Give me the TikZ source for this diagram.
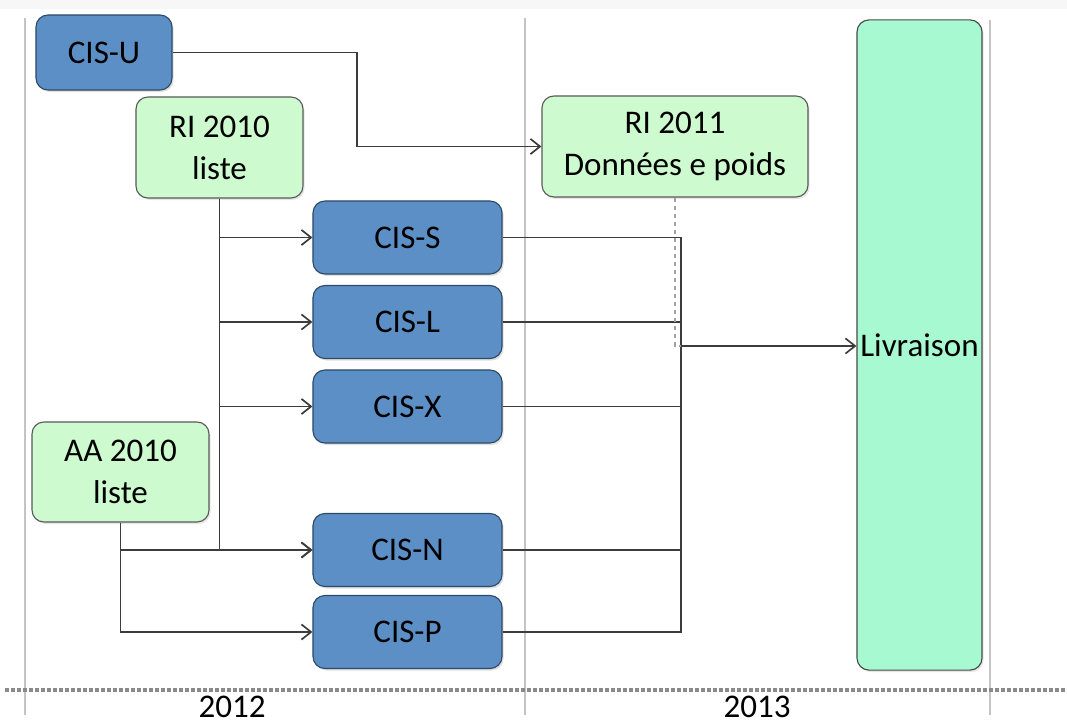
\documentclass[tikz,border=0pt]{standalone}
\usepackage{fontspec}
\setmainfont{Carlito}
\usepackage{tikz}
\usetikzlibrary{arrows.meta,positioning,shadows}
\definecolor{CisBlue}{HTML}{5B8FC6}
\definecolor{CisEdge}{HTML}{2E4A66}
\definecolor{SoftGreen}{HTML}{CDFACF}
\definecolor{GreenEdge}{HTML}{5A5A5A}
\definecolor{Mint}{HTML}{A6F9D0}
\definecolor{MintEdge}{HTML}{4A4A4A}
\definecolor{LineGray}{HTML}{3C3C3C}
\definecolor{YearGray}{HTML}{C4C4C4}
\definecolor{DotGray}{HTML}{8A8A8A}
\newcommand{\diagfont}{\fontsize{23.5}{30}\selectfont}
\tikzset{
  cisbox/.style={draw=CisEdge,fill=CisBlue,rounded corners=3mm,line width=0.8pt,
              minimum width=4.725cm,minimum height=1.825cm,inner sep=0pt,font=\diagfont,
              drop shadow={opacity=0.25,shadow xshift=0.4mm,shadow yshift=-0.5mm}},
  listbox/.style={draw=GreenEdge,fill=SoftGreen,rounded corners=3mm,line width=0.8pt,
              align=center,inner sep=0pt,font=\diagfont,
              drop shadow={opacity=0.2,shadow xshift=0.4mm,shadow yshift=-0.5mm}},
  endbox/.style={draw=MintEdge,fill=Mint,rounded corners=3mm,line width=0.8pt,
              inner sep=0pt,font=\diagfont,
              drop shadow={opacity=0.2,shadow xshift=0.4mm,shadow yshift=-0.5mm}},
  link/.style={line width=1.35pt,draw=LineGray},
  flow/.style={link,-{Straight Barb[length=2.4mm,width=3.8mm,line width=1.2pt]}},
  feed/.style={line width=1.2pt,draw=DotGray!80,dash pattern=on 1.2mm off 0.8mm},
  yearline/.style={line width=1.3pt,draw=YearGray},
  year/.style={font=\diagfont,text=black,inner sep=0pt}
}

\begin{document}
\begin{tikzpicture}[x=0.025cm,y=-0.025cm]
  \useasboundingbox (0,0) rectangle (1067,723);
  \fill[black!3] (0,0) rectangle (1067,9);

  % year grid
  \draw[yearline] (25,18) -- (25,715);
  \draw[yearline] (525,18) -- (525,715);
  \draw[yearline] (990,20) -- (990,715);
  \draw[line width=2.2pt,draw=DotGray,dash pattern=on 0.9mm off 0.6mm] (5,690) -- (1067,690);
  \node[year] (y12) at (232,707) {2012};
  \node[year] (y13) at (757,707) {2013};

  % sources
  \node[cisbox,minimum width=3.4cm,minimum height=1.875cm] (cisu) at (104,52.5) {CIS-U};
  \node[listbox,minimum width=4.175cm,minimum height=2.525cm] (ri10) at (219.5,147.5) {RI 2010\\liste};
  \node[listbox,minimum width=4.425cm,minimum height=2.5cm] (aa10) at (120.5,472) {AA 2010\\liste};

  % extractions
  \node[cisbox] (ciss) at (407.5,237.5) {CIS-S};
  \node[cisbox] (cisl) at (407.5,322) {CIS-L};
  \node[cisbox] (cisx) at (407.5,406.5) {CIS-X};
  \node[cisbox] (cisn) at (407.5,550) {CIS-N};
  \node[cisbox] (cisp) at (407.5,632) {CIS-P};

  % 2013
  \node[listbox,minimum width=6.65cm,minimum height=2.525cm] (ri11) at (675,146.5) {RI 2011\\Données e poids};
  \node[endbox,minimum width=3.125cm,minimum height=16.25cm] (livr) at (919.5,345) {Livraison};

  \coordinate (merge) at (681,346);

  \draw[flow] (cisu.east) -- (cisu.east -| 357,0) |- (ri11.west);

  \draw[flow] (ri10.south) |- (ciss.west);
  \draw[flow] (ri10.south) |- (cisl.west);
  \draw[flow] (ri10.south) |- (cisx.west);
  \draw[flow] (ri10.south) |- (cisn.west);
  \draw[flow] (aa10.south) |- (cisn.west);
  \draw[flow] (aa10.south) |- (cisp.west);

  \draw[link] (ciss.east) -| (merge);
  \draw[link] (cisl.east) -| (merge);
  \draw[link] (cisx.east) -| (merge);
  \draw[link] (cisn.east) -| (merge);
  \draw[link] (cisp.east) -| (merge);
  \draw[feed] (ri11.south) -- (ri11.south |- merge) -- (merge);
  \draw[flow] (merge) -- (livr.west |- merge);
\end{tikzpicture}
\end{document}
